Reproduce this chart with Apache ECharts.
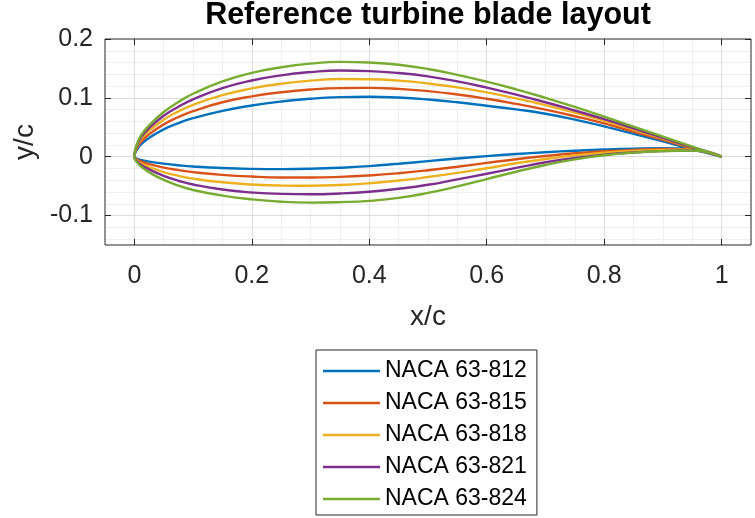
<!DOCTYPE html>
<html><head><meta charset="utf-8">
<script src="https://cdn.jsdelivr.net/npm/echarts@6/dist/echarts.min.js"></script>
<style>html,body{margin:0;padding:0;background:#fff}#c{width:755px;height:518px}</style>
</head><body><div id="c"></div>
<script>
// ---- data ----
const titleText = 'Reference turbine blade layout';
const xName = 'x/c';
const yName = 'y/c';
const xTicks = [0, 0.2, 0.4, 0.6, 0.8, 1];
const yTicks = [-0.1, 0, 0.1, 0.2];
const seriesNames = ['NACA 63-812', 'NACA 63-815', 'NACA 63-818', 'NACA 63-821', 'NACA 63-824'];
const xStations = [0, 0.005, 0.0125, 0.025, 0.05, 0.075, 0.1, 0.15, 0.2, 0.25, 0.3, 0.35, 0.4, 0.45, 0.5, 0.55, 0.6, 0.65, 0.7, 0.75, 0.8, 0.85, 0.9, 0.95, 1.0];
const upper812 = [0, 0.013, 0.022, 0.032, 0.0465, 0.057, 0.0655, 0.078, 0.087, 0.0938, 0.0985, 0.1012, 0.102, 0.1005, 0.0972, 0.0925, 0.0865, 0.0805, 0.073, 0.063, 0.0515, 0.0388, 0.026, 0.013, 0];
const lower812 = [0, -0.0035, -0.0058, -0.0083, -0.0118, -0.0145, -0.0166, -0.0193, -0.0207, -0.0211, -0.0205, -0.0188, -0.016, -0.012, -0.0075, -0.003, 0.001, 0.0045, 0.0076, 0.0102, 0.0123, 0.0137, 0.0143, 0.013, 0];
const upper815 = [0, 0.016, 0.0265, 0.038, 0.055, 0.0675, 0.0775, 0.0925, 0.1025, 0.1095, 0.1142, 0.1166, 0.117, 0.1153, 0.1115, 0.1058, 0.0985, 0.0898, 0.080, 0.0688, 0.0565, 0.0425, 0.0285, 0.0143, 0];
const lower815 = [0, -0.0048, -0.0085, -0.0125, -0.0185, -0.0228, -0.0262, -0.0308, -0.0337, -0.0352, -0.0354, -0.0343, -0.0318, -0.028, -0.023, -0.017, -0.0105, -0.0042, 0.0013, 0.0058, 0.0093, 0.0117, 0.013, 0.0125, 0];
const upper818 = [0, 0.019, 0.031, 0.044, 0.063, 0.077, 0.088, 0.1045, 0.116, 0.124, 0.1292, 0.132, 0.1316, 0.1292, 0.1245, 0.1178, 0.1093, 0.099, 0.0875, 0.0748, 0.0608, 0.046, 0.0307, 0.0153, 0];
const lower818 = [0, -0.0065, -0.0118, -0.0175, -0.0262, -0.0325, -0.0372, -0.0435, -0.0472, -0.049, -0.0493, -0.048, -0.045, -0.0405, -0.0345, -0.0275, -0.0195, -0.0112, -0.0038, 0.0022, 0.0068, 0.0099, 0.0117, 0.0118, 0];
const upper821 = [0, 0.021, 0.0345, 0.0485, 0.0695, 0.085, 0.0975, 0.1165, 0.1295, 0.1383, 0.1438, 0.1465, 0.1455, 0.1422, 0.1365, 0.128, 0.1175, 0.1055, 0.0925, 0.0785, 0.0638, 0.0482, 0.0322, 0.0161, 0];
const lower821 = [0, -0.0082, -0.0145, -0.0215, -0.0325, -0.0408, -0.0472, -0.0558, -0.0608, -0.0632, -0.0637, -0.0625, -0.0595, -0.0545, -0.0477, -0.0385, -0.029, -0.019, -0.0095, -0.002, 0.0035, 0.0072, 0.0095, 0.0105, 0];
const upper824 = [0, 0.023, 0.038, 0.053, 0.076, 0.093, 0.107, 0.128, 0.1425, 0.152, 0.1582, 0.1612, 0.160, 0.1562, 0.149, 0.139, 0.1275, 0.1145, 0.100, 0.0845, 0.068, 0.051, 0.034, 0.017, 0];
const lower824 = [0, -0.010, -0.0175, -0.0265, -0.0395, -0.049, -0.0565, -0.066, -0.0725, -0.0765, -0.078, -0.0772, -0.075, -0.070, -0.0615, -0.0505, -0.038, -0.0255, -0.014, -0.0045, 0.0025, 0.007, 0.0095, 0.0105, 0];
const uppers = [upper812, upper815, upper818, upper821, upper824];
const lowers = [lower812, lower815, lower818, lower821, lower824];
const colors = ['#0072BD', '#D95319', '#EDB120', '#7E2F8E', '#77AC30'];

// ---- build ----
const FONT = '"Liberation Sans", Arial, Helvetica, sans-serif';
const TXT = '#262626';
const MAJOR = '#dcdcdc';
const MINOR = '#efefef';
const xMin = -0.05, xMax = 1.05, yMin = -0.15, yMax = 0.2;

function outline(up, lo) {
  const pts = [];
  for (let i = xStations.length - 1; i >= 0; i--) pts.push([xStations[i], up[i]]);
  for (let i = 1; i < xStations.length; i++) pts.push([xStations[i], lo[i]]);
  return pts;
}

const series = seriesNames.map((n, k) => ({
  name: n, type: 'line', data: outline(uppers[k], lowers[k]),
  xAxisIndex: 0, yAxisIndex: 0,
  showSymbol: false, symbol: 'none', smooth: 0.5,
  lineStyle: { width: 2.4, color: colors[k] }, itemStyle: { color: colors[k] },
  z: 5, animation: false
}));

const hidden = { axisLine: { show: false, onZero: false }, axisTick: { show: false }, axisLabel: { show: false } };

const option = {
  animation: false,
  backgroundColor: '#fff',
  title: {
    text: titleText, left: 428, textAlign: 'center', top: 0, padding: 0,
    textStyle: { fontSize: 30.5, fontWeight: 'bold', color: '#000', fontFamily: FONT }
  },
  grid: { left: 105, right: 4, top: 39, bottom: 273, show: true, borderColor: TXT, borderWidth: 1, backgroundColor: 'transparent', z: 3 },
  legend: {
    orient: 'vertical', left: 316, top: 350,
    icon: 'rect', itemWidth: 57, itemHeight: 2.5, itemGap: 8,
    padding: [9, 10, 4, 7],
    borderColor: TXT, borderWidth: 1, backgroundColor: '#fff',
    textStyle: { fontSize: 23, lineHeight: 24, color: '#000', fontFamily: FONT },
    data: seriesNames
  },
  xAxis: [
    {
      type: 'value', position: 'bottom', min: xMin, max: xMax, z: 2,
      name: xName, nameLocation: 'middle', nameGap: 58,
      nameTextStyle: { fontSize: 28, color: TXT, fontFamily: FONT },
      axisLine: { show: false, onZero: false },
      axisTick: { show: true, inside: true, length: 6, customValues: xTicks, lineStyle: { color: TXT } },
      axisLabel: { customValues: xTicks, fontSize: 25, margin: 19, color: TXT, fontFamily: FONT },
      splitLine: { show: true, lineStyle: { color: MAJOR, width: 1 } }
    },
    {
      type: 'value', position: 'top', min: xMin, max: xMax, z: 2,
      axisLine: { show: false, onZero: false },
      axisTick: { show: true, inside: true, length: 6, customValues: xTicks, lineStyle: { color: TXT } },
      axisLabel: { show: false }, splitLine: { show: false }
    },
    Object.assign({
      type: 'value', min: xMin, max: xMax, interval: 0.05, z: 1,
      splitLine: { show: true, showMinLine: false, showMaxLine: false, lineStyle: { color: MINOR, width: 1 } }
    }, hidden)
  ],
  yAxis: [
    {
      type: 'value', position: 'left', min: yMin, max: yMax, z: 2,
      name: yName, nameLocation: 'middle', nameGap: 65,
      nameTextStyle: { fontSize: 28, color: TXT, fontFamily: FONT },
      axisLine: { show: false, onZero: false },
      axisTick: { show: true, inside: true, length: 6, customValues: yTicks, lineStyle: { color: TXT } },
      axisLabel: { customValues: yTicks, fontSize: 25, margin: 12, color: TXT, fontFamily: FONT },
      splitLine: { show: true, showMaxLine: false, lineStyle: { color: MAJOR, width: 1 } }
    },
    {
      type: 'value', position: 'right', min: yMin, max: yMax, z: 2,
      axisLine: { show: false, onZero: false },
      axisTick: { show: true, inside: true, length: 6, customValues: yTicks, lineStyle: { color: TXT } },
      axisLabel: { show: false }, splitLine: { show: false }
    },
    Object.assign({
      type: 'value', min: yMin, max: yMax, interval: 0.01, z: 1,
      splitLine: { show: true, showMinLine: true, showMaxLine: false, lineStyle: { color: ['rgba(0,0,0,0)', MINOR], width: 1 } }
    }, hidden)
  ],
  series: series
};

const chart = echarts.init(document.getElementById('c'), null, { renderer: 'canvas' });
chart.setOption(option);
</script></body></html>
